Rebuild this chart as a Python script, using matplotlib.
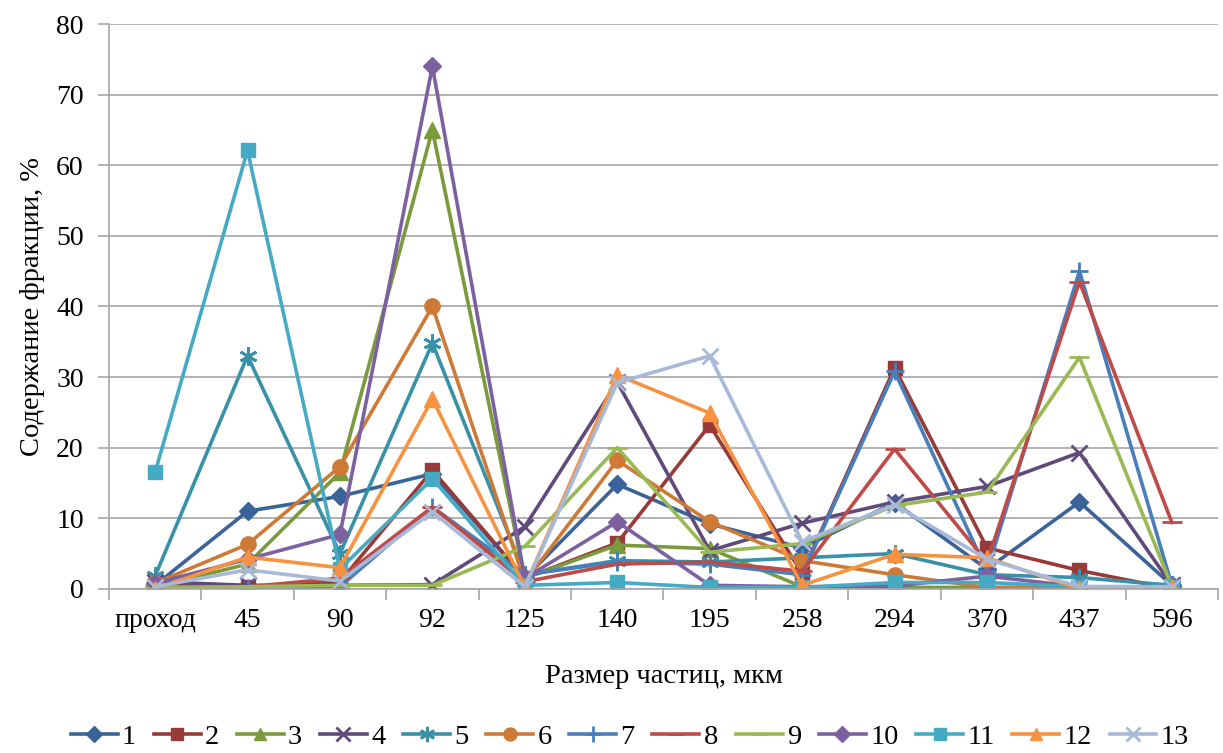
# -*- coding: utf-8 -*-
import numpy as np
import matplotlib
matplotlib.use("Agg")
import matplotlib.pyplot as plt
from matplotlib.ticker import FixedLocator

plt.rcParams['font.family'] = ['Liberation Serif', 'DejaVu Serif']

# категории по оси X
categories = ['проход', '45', '90', '92', '125', '140', '195', '258', '294', '370', '437', '596']

# значения серий (содержание фракции, %)
s1 = [0.5, 11.0, 13.1, 16.3, 1.5, 14.8, 9.2, 5.8, 12.2, 2.8, 12.3, 0.5]
s2 = [0.5, 0.3, 1.0, 16.8, 1.5, 6.5, 23.2, 2.2, 31.3, 5.8, 2.6, 0.0]
s3 = [0.3, 3.5, 16.5, 65.0, 1.5, 6.2, 5.7, 0.3, 0.2, 0.2, 0.2, 0.0]
s4 = [1.0, 0.5, 0.5, 0.6, 8.8, 29.3, 5.4, 9.3, 12.3, 14.5, 19.3, 0.5]
s5 = [1.8, 33.0, 5.0, 34.8, 2.0, 4.0, 3.8, 4.4, 5.0, 2.0, 1.6, 0.5]
s6 = [0.8, 6.3, 17.3, 40.0, 1.0, 18.2, 9.5, 4.0, 2.0, 0.2, 0.2, 0.0]
s7 = [0.3, 0.1, 0.3, 11.6, 2.0, 3.8, 3.5, 2.0, 30.8, 2.5, 45.0, 0.5]
s8 = [0.3, 0.3, 1.5, 11.6, 1.0, 3.5, 3.8, 2.5, 19.8, 3.8, 43.5, 9.4]
s9 = [0.2, 0.3, 0.5, 0.5, 6.0, 20.0, 5.2, 6.4, 11.8, 13.7, 32.8, 0.3]
s10 = [0.8, 4.2, 7.7, 74.0, 1.5, 9.5, 0.5, 0.3, 0.4, 1.8, 0.3, 0.3]
s11 = [16.5, 62.1, 2.8, 15.6, 0.5, 0.9, 0.2, 0.2, 0.9, 0.9, 0.3, 0.3]
s12 = [0.0, 4.5, 3.0, 26.9, 0.3, 30.3, 24.9, 0.5, 4.9, 4.4, 0.0, 0.2]
s13 = [0.3, 2.7, 1.1, 10.9, 0.3, 29.2, 33.0, 6.7, 11.9, 4.2, 0.3, 0.3]

series = [s1, s2, s3, s4, s5, s6, s7, s8, s9, s10, s11, s12, s13]
names = [str(i) for i in range(1, 14)]
colors = ['#3A6499', '#983A37', '#7A9A3C', '#604A7B', '#3891A7', '#CE7A36',
          '#4A7EBB', '#BE4B48', '#98B954', '#7D60A0', '#46AAC5', '#F69240', '#A7B9D9']
markers = ['D', 's', '^', 'x', (6, 2, 0), 'o', '+', '_', '_', 'D', 's', '^', 'x']
msizes = [9, 10, 11, 12, 13, 11, 13, 15, 15, 9, 10, 11, 12]

fig = plt.figure(figsize=(12.23, 7.53), dpi=100)
ax = fig.add_axes([0.089, 0.218, 0.907, 0.750])

x = np.arange(len(categories))
for vals, nm, c, m, ms in zip(series, names, colors, markers, msizes):
    ax.plot(x, vals, color=c, lw=2.6, marker=m, markersize=ms,
            markeredgewidth=2.0 if m in ('x', '+', '_', (6, 2, 0)) else 1.0,
            markerfacecolor=c, markeredgecolor=c, label=nm)

ax.set_xlim(-0.5, len(categories) - 0.5)
ax.set_ylim(0, 80)
ax.set_yticks(np.arange(0, 81, 10))
ax.yaxis.grid(True, color='#A6A6A6', lw=1.2)
ax.set_axisbelow(True)

ax.set_xticks(x)
ax.set_xticklabels(categories)
ax.xaxis.set_minor_locator(FixedLocator(np.arange(-0.5, len(categories), 1.0)))
ax.tick_params(axis='x', which='major', length=0, pad=14, labelsize=20)
ax.tick_params(axis='x', which='minor', length=8, width=1.2, color='#A6A6A6')
ax.tick_params(axis='y', which='major', length=8, width=1.2, color='#A6A6A6',
               pad=10, labelsize=20)

for sp in ['top', 'right']:
    ax.spines[sp].set_visible(False)
for sp in ['left', 'bottom']:
    ax.spines[sp].set_color('#A6A6A6')
    ax.spines[sp].set_linewidth(1.2)

ax.set_xlabel('Размер частиц, мкм', fontsize=20.5, labelpad=22)
ax.set_ylabel('Содержание фракции, %', fontsize=20.5, labelpad=8)

fig.legend(loc='lower center', bbox_to_anchor=(0.515, -0.022), ncol=13, frameon=False,
           fontsize=20.5, handlelength=1.65, handletextpad=0.15, columnspacing=0.62,
           markerscale=0.85, borderaxespad=0.3)

fig.savefig('out.png', dpi=100)
